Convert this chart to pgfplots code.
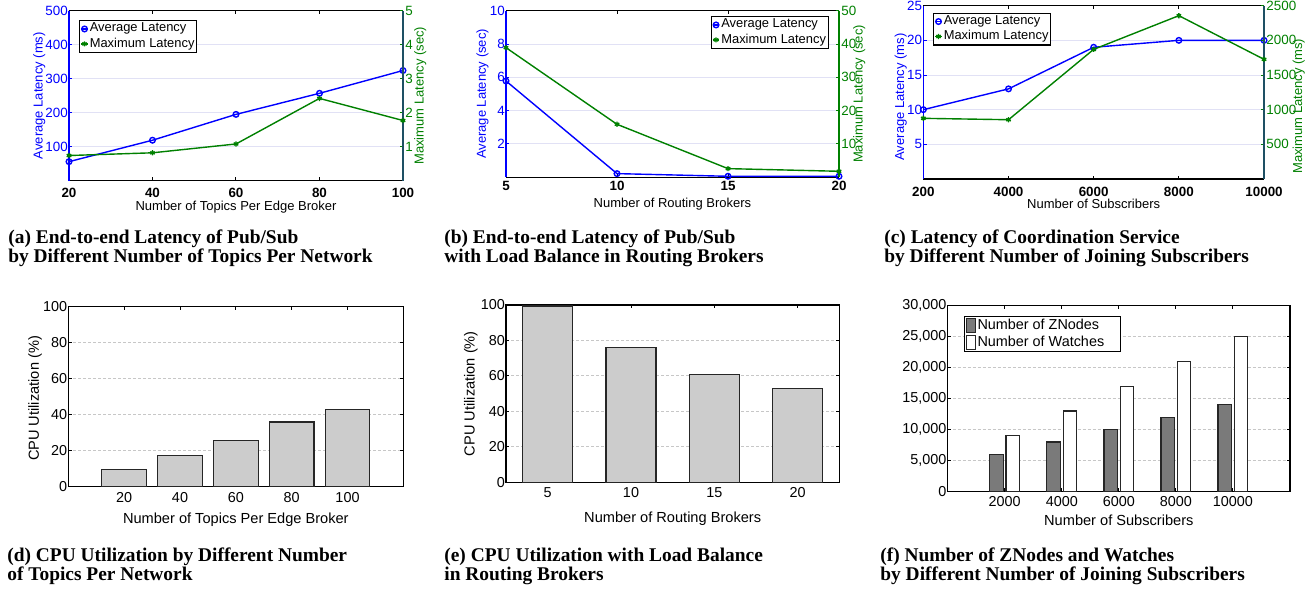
\documentclass[border=0pt]{standalone}
\usepackage{fontspec}
\setmainfont{Liberation Sans}
\newfontfamily\capfont{Liberation Serif}
\usepackage{pgfplots}
\pgfplotsset{compat=1.18}
\definecolor{mblue}{RGB}{0,0,255}
\definecolor{mgreen}{RGB}{0,128,0}
\definecolor{mteal}{RGB}{30,80,100}
\definecolor{gridlav}{RGB}{225,225,245}
\definecolor{bargray}{RGB}{204,204,204}
\definecolor{bardark}{RGB}{122,122,122}
\pgfplotsset{
 every axis/.append style={/pgf/number format/assume math mode=true},
 topleft/.style={scale only axis, anchor=south west, axis x line*=box, axis y line*=left,
   tick align=inside, major tick length=1.6pt,
   x axis line style={black,line width=0.6pt}, y axis line style={mblue,line width=0.6pt},
   xtick style={black,line width=0.5pt}, ytick style={mblue,line width=0.5pt},
   ymajorgrids, grid style={gridlav, line width=0.5pt},
   yticklabel style={mblue, font=\fontsize{6.7}{7}\selectfont, inner xsep=0.4pt},
   xticklabel style={font=\bfseries\fontsize{6.7}{7}\selectfont, anchor=center},
   label style={font=\fontsize{6.5}{7}\selectfont},
   ylabel style={mblue, anchor=center}, xlabel style={anchor=center},
   /pgf/number format/1000 sep={}, scaled ticks=false},
 topright/.style={scale only axis, anchor=south west, axis x line=none, axis y line*=right,
   tick align=inside, major tick length=1.6pt,
   ytick style={mgreen,line width=0.5pt},
   yticklabel style={mgreen, font=\fontsize{6.7}{7}\selectfont, inner xsep=1pt},
   label style={font=\fontsize{6.5}{7}\selectfont},
   ylabel style={mgreen, anchor=center},
   /pgf/number format/1000 sep={}, scaled ticks=false,
   legend style={draw=black, line width=0.6pt, font=\fontsize{6.45}{7}\selectfont,
     inner sep=0.5pt, row sep=0pt, nodes={inner sep=0.7pt}, cells={anchor=west}},
   legend image code/.code={\draw[mark repeat=2,mark phase=2,##1] plot coordinates {(0pt,0pt) (1.6pt,0pt) (3.2pt,0pt)};}},
 avg/.style={mblue, line width=0.7pt, mark=o, mark size=1.4pt},
 mx/.style={mgreen, line width=0.7pt, mark=asterisk, mark size=1.3pt},
 barleg/.style={legend image code/.code={\draw[##1] (0pt,-3.5pt) rectangle (4.5pt,3.5pt);}},
 bottomrow/.style={scale only axis, anchor=south west, tick align=inside, major tick length=1.6pt,
   axis line style={black,line width=0.6pt}, every tick/.style={black,line width=0.5pt},
   ymajorgrids, grid style={black!22, dash pattern=on 1.5pt off 1pt, line width=0.4pt},
   ticklabel style={font=\fontsize{7.2}{8}\selectfont},
   yticklabel style={inner xsep=0.4pt},
   xticklabel style={anchor=center},
   label style={font=\fontsize{7.3}{8}\selectfont},
   xlabel style={anchor=center}, ylabel style={anchor=center}},
}
\newcommand{\capA}{\capfont\bfseries\fontsize{9.7}{10}\selectfont}
\begin{document}
\begin{tikzpicture}
\useasboundingbox (0,0) rectangle (656.5pt,296pt);
% ---------------- (a)
\begin{axis}[topleft, at={(34.5pt,205.65pt)}, width=167pt, height=85pt,
  xmin=20, xmax=100, ymin=0, ymax=500, xtick={20,40,60,80,100}, ytick={100,200,300,400,500},
  xticklabel style={yshift=-5.9pt},
  xlabel={Number of Topics Per Edge Broker}, xlabel style={at={(axis description cs:0.5,0)}, yshift=-13pt},
  ylabel={Average Latency (ms)}, ylabel style={at={(axis description cs:-0.0892,0.5)}}]
\addplot[avg] coordinates {(20,56) (40,119) (60,195) (80,257) (100,324)};
\end{axis}
\begin{axis}[topright, at={(34.5pt,205.65pt)}, width=167pt, height=85pt,
  xmin=20, xmax=100, ymin=0, ymax=5, ytick={1,2,3,4,5},
  y axis line style={mteal,line width=0.6pt},
  ylabel={Maximum Latency (sec)}, ylabel style={at={(axis description cs:1.052,0.5)}},
  legend style={at={(0.03,0.945)}, anchor=north west}]
\addlegendimage{avg}\addlegendentry{Average Latency}
\addplot[mx] coordinates {(20,0.74) (40,0.82) (60,1.08) (80,2.42) (100,1.77)};
\addlegendentry{Maximum Latency}
\end{axis}
% ---------------- (b)
\begin{axis}[topleft, at={(253pt,207.35pt)}, width=166.5pt, height=83.3pt,
  xmin=5, xmax=20, ymin=0, ymax=10, xtick={5,10,15,20}, ytick={2,4,6,8,10},
  xticklabel style={yshift=-4.2pt},
  xlabel={Number of Routing Brokers}, xlabel style={at={(axis description cs:0.5,0)}, yshift=-13.35pt},
  ylabel={Average Latency (sec)}, ylabel style={at={(axis description cs:-0.0706,0.5)}}]
\addplot[avg] coordinates {(5,5.78) (10,0.22) (15,0.06) (20,0.06)};
\end{axis}
\begin{axis}[topright, at={(253pt,207.35pt)}, width=166.5pt, height=83.3pt,
  xmin=5, xmax=20, ymin=0, ymax=50, ytick={10,20,30,40,50},
  y axis line style={mgreen,line width=0.6pt},
  ylabel={Maximum Latency (sec)}, ylabel style={at={(axis description cs:1.0607,0.5)}},
  legend style={at={(0.97,0.968)}, anchor=north east}]
\addlegendimage{avg}\addlegendentry{Average Latency}
\addplot[mx] coordinates {(5,38.9) (10,15.9) (15,2.6) (20,1.8)};
\addlegendentry{Maximum Latency}
\end{axis}
% ---------------- (c)
\begin{axis}[topleft, at={(461.67pt,206.5pt)}, width=170.35pt, height=86.65pt,
  xmin=2000, xmax=10000, ymin=0, ymax=25, xtick={2000,4000,6000,8000,10000},
  xticklabels={200,4000,6000,8000,10000}, ytick={5,10,15,20,25},
  xticklabel style={yshift=-6.3pt},
  xlabel={Number of Subscribers}, xlabel style={at={(axis description cs:0.5,0)}, yshift=-12.65pt},
  ylabel={Average Latency (ms)}, ylabel style={at={(axis description cs:-0.066,0.473)}}]
\addplot[avg] coordinates {(2000,10) (4000,13) (6000,19) (8000,20) (10000,20)};
\end{axis}
\begin{axis}[topright, at={(461.67pt,206.5pt)}, width=170.35pt, height=86.65pt,
  xmin=2000, xmax=10000, ymin=0, ymax=2500, ytick={500,1000,1500,2000,2500},
  y axis line style={mteal,line width=0.6pt},
  ylabel={Maximum Latency (ms)}, ylabel style={at={(axis description cs:1.102,0.42)}},
  legend style={at={(0.0284,0.96)}, anchor=north west}]
\addlegendimage{avg}\addlegendentry{Average Latency}
\addplot[mx] coordinates {(2000,875) (4000,855) (6000,1870) (8000,2356) (10000,1726)};
\addlegendentry{Maximum Latency}
\end{axis}
% ---------------- (d)
\begin{axis}[bottomrow, at={(34.17pt,52.65pt)}, width=167.5pt, height=90pt,
  xmin=0, xmax=120, ymin=0, ymax=100, xtick={20,40,60,80,100}, ytick={0,20,40,60,80,100},
  xticklabel style={yshift=-5.3pt},
  xlabel={Number of Topics Per Edge Broker}, xlabel style={at={(axis description cs:0.5,0)}, yshift=-16.65pt},
  ylabel={CPU Utilization (\%)}, ylabel style={at={(axis description cs:-0.0994,0.49)}}]
\addplot[ybar, bar width=16, bar shift=0, fill=bargray, draw=black!85, line width=0.6pt]
  coordinates {(20,9.6) (40,17.4) (60,25.7) (80,35.9) (100,42.8)};
\end{axis}
% ---------------- (e)
\begin{axis}[bottomrow, at={(253pt,54.85pt)}, width=166.67pt, height=88.67pt,
  xmin=2.5, xmax=22.5, ymin=0, ymax=100, xtick={5,10,15,20}, ytick={0,20,40,60,80,100},
  xticklabel style={yshift=-5pt},
  xlabel={Number of Routing Brokers}, xlabel style={at={(axis description cs:0.5,0)}, yshift=-18.35pt},
  ylabel={CPU Utilization (\%)}, ylabel style={at={(axis description cs:-0.1056,0.5)}}]
\addplot[ybar, bar width=3, bar shift=0, fill=bargray, draw=black!85, line width=0.6pt]
  coordinates {(5,99.4) (10,76.1) (15,60.9) (20,53.0)};
\end{axis}
% ---------------- (f)
\begin{axis}[bottomrow, at={(473.83pt,50.15pt)}, width=171.17pt, height=93pt,
  xmin=0, xmax=12000, ymin=0, ymax=30000, xtick={2000,4000,6000,8000,10000},
  xticklabels={2000,4000,6000,8000,10000},
  ytick={0,5000,10000,15000,20000,25000,30000}, scaled ticks=false,
  /pgf/number format/1000 sep={,},
  xticklabel style={yshift=-5.15pt},
  xlabel={Number of Subscribers}, xlabel style={at={(axis description cs:0.5,0)}, yshift=-14.15pt},
  legend style={at={(0.048,0.945)}, anchor=north west, draw=black, line width=0.6pt,
    font=\fontsize{7.2}{8}\selectfont, inner sep=0.5pt, row sep=0pt, nodes={inner sep=0.8pt}, cells={anchor=west}}]
\addplot[ybar, bar width=475, bar shift=-285, fill=bardark, draw=black!85, line width=0.6pt, barleg]
  coordinates {(2000,6000) (4000,8000) (6000,10000) (8000,12000) (10000,14000)};
\addlegendentry{Number of ZNodes}
\addplot[ybar, bar width=475, bar shift=285, fill=white, draw=black!85, line width=0.6pt, barleg]
  coordinates {(2000,9000) (4000,13000) (6000,17000) (8000,21000) (10000,25000)};
\addlegendentry{Number of Watches\hspace*{7pt}}
\end{axis}
% ---------------- captions
\node[anchor=base west, inner sep=0, font=\capA] at (4pt,174pt) {(a) End-to-end Latency of Pub/Sub};
\node[anchor=base west, inner sep=0, font=\capA] at (4pt,164.65pt) {by Different Number of Topics Per Network};
\node[anchor=base west, inner sep=0, font=\capA] at (222pt,174pt) {(b) End-to-end Latency of Pub/Sub};
\node[anchor=base west, inner sep=0, font=\capA] at (222pt,164.65pt) {with Load Balance in Routing Brokers};
\node[anchor=base west, inner sep=0, font=\capA] at (442pt,174pt) {(c) Latency of Coordination Service};
\node[anchor=base west, inner sep=0, font=\capA] at (442pt,164.65pt) {by Different Number of Joining Subscribers};
\node[anchor=base west, inner sep=0, font=\capA] at (3.5pt,15.15pt) {(d) CPU Utilization by Different Number};
\node[anchor=base west, inner sep=0, font=\capA] at (3.5pt,5.65pt) {of Topics Per Network};
\node[anchor=base west, inner sep=0, font=\capA] at (222pt,15.15pt) {(e) CPU Utilization with Load Balance};
\node[anchor=base west, inner sep=0, font=\capA] at (222pt,5.65pt) {in Routing Brokers};
\node[anchor=base west, inner sep=0, font=\capA] at (440pt,15.15pt) {(f) Number of ZNodes and Watches};
\node[anchor=base west, inner sep=0, font=\capA] at (440pt,5.65pt) {by Different Number of Joining Subscribers};
\end{tikzpicture}
\end{document}
